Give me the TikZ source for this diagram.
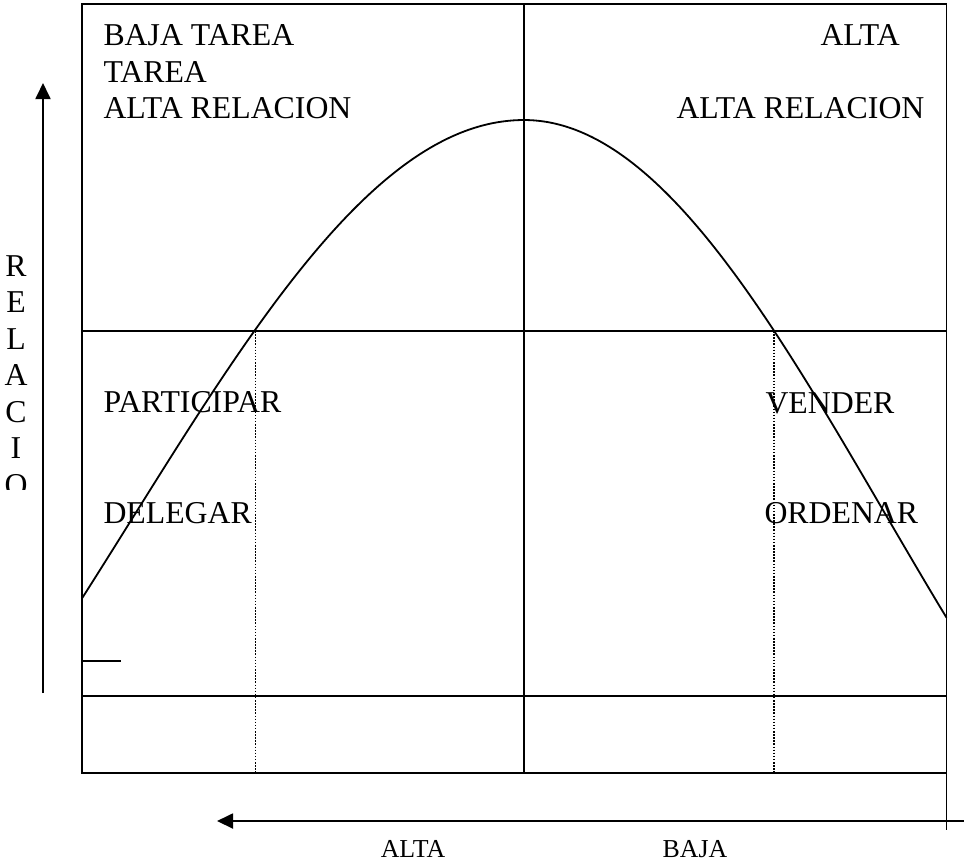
\documentclass[tikz,border=0pt]{standalone}
\usepackage{fontspec}
\setmainfont{Liberation Serif}
\usetikzlibrary{arrows.meta}
\begin{document}
\begin{tikzpicture}[x=0.387pt,y=-0.387pt,
  frame/.style={line width=0.75pt},
  guide/.style={line width=0.6pt, dash pattern=on 0.6pt off 0.6pt},
  curveline/.style={line width=0.7pt},
  axis/.style={line width=0.75pt, -{Triangle[length=6.2pt,width=5.8pt]}},
  lbl/.style={inner sep=0pt, anchor=base west, font=\fontsize{12.3}{14}\selectfont},
  vlbl/.style={inner sep=0pt, anchor=base, font=\fontsize{12.3}{14}\selectfont},
  smalllbl/.style={inner sep=0pt, anchor=base, font=\fontsize{10}{12}\selectfont}]
\useasboundingbox (0,0) rectangle (964,861);
% frame and grid
\coordinate (tl) at (82,4); \coordinate (br) at (946.5,773);
\draw[frame] (tl) rectangle (br);
\coordinate (mt) at (524,4); \coordinate (mb) at (524,773);
\draw[frame] (mt) -- (mb);
\coordinate (h1l) at (82,331); \coordinate (h1r) at (946.5,331);
\draw[frame] (h1l) -- (h1r);
\coordinate (h2l) at (82,696); \coordinate (h2r) at (946.5,696);
\draw[frame] (h2l) -- (h2r);
\coordinate (tick1) at (82,661); \coordinate (tick2) at (121,661);
\draw[frame] (tick1) -- (tick2);
\coordinate (rt1) at (946.5,773); \coordinate (rt2) at (946.5,830);
\draw[frame] (rt1) -- (rt2);
% dotted guides
\coordinate (d1t) at (255.5,331); \coordinate (d1b) at (255.5,773);
\draw[guide] (d1t) -- (d1b);
\coordinate (d2t) at (774,331); \coordinate (d2b) at (774,773);
\draw[guide] (d2t) -- (d2b);
% curve
\draw[curveline] plot[domain=-442:0, samples=90, smooth] ({\x+524}, {120+400*(1-cos(\x/250*57.29578))});
\draw[curveline] plot[domain=0:422.5, samples=90, smooth] ({\x+524}, {120+394*(1-cos(\x/230*57.29578))});
% axes
\coordinate (va) at (43,693); \coordinate (vb) at (43,83);
\draw[axis] (va) -- (vb);
\coordinate (ha) at (964,821); \coordinate (hb) at (217,821);
\draw[axis] (ha) -- (hb);
% texts
\node[lbl] (t1) at (103,45) {BAJA TAREA};
\node[lbl] (t2) at (103,82) {TAREA};
\node[lbl] (t3) at (103,118) {ALTA RELACION};
\node[lbl] (t4) at (820,45) {ALTA};
\node[lbl] (t5) at (676,118) {ALTA RELACION};
\node[lbl] (t6) at (103,412) {PARTICIPAR};
\node[lbl] (t7) at (103,523) {DELEGAR};
\node[lbl] (t8) at (765,413) {VENDER};
\node[lbl] (t9) at (764,523) {ORDENAR};
\node[smalllbl] (b1) at (413,857) {ALTA};
\node[smalllbl] (b2) at (695,857) {BAJA};
\begin{scope}
\clip (0,0) rectangle (40,489);
\node[vlbl] (r1) at (16,276) {R};
\node[vlbl] (r2) at (16,312.5) {E};
\node[vlbl] (r3) at (16,349) {L};
\node[vlbl] (r4) at (16,385.5) {A};
\node[vlbl] (r5) at (16,422) {C};
\node[vlbl] (r6) at (16,458.5) {I};
\node[vlbl] (r7) at (16,495) {O};
\end{scope}
\end{tikzpicture}
\end{document}
